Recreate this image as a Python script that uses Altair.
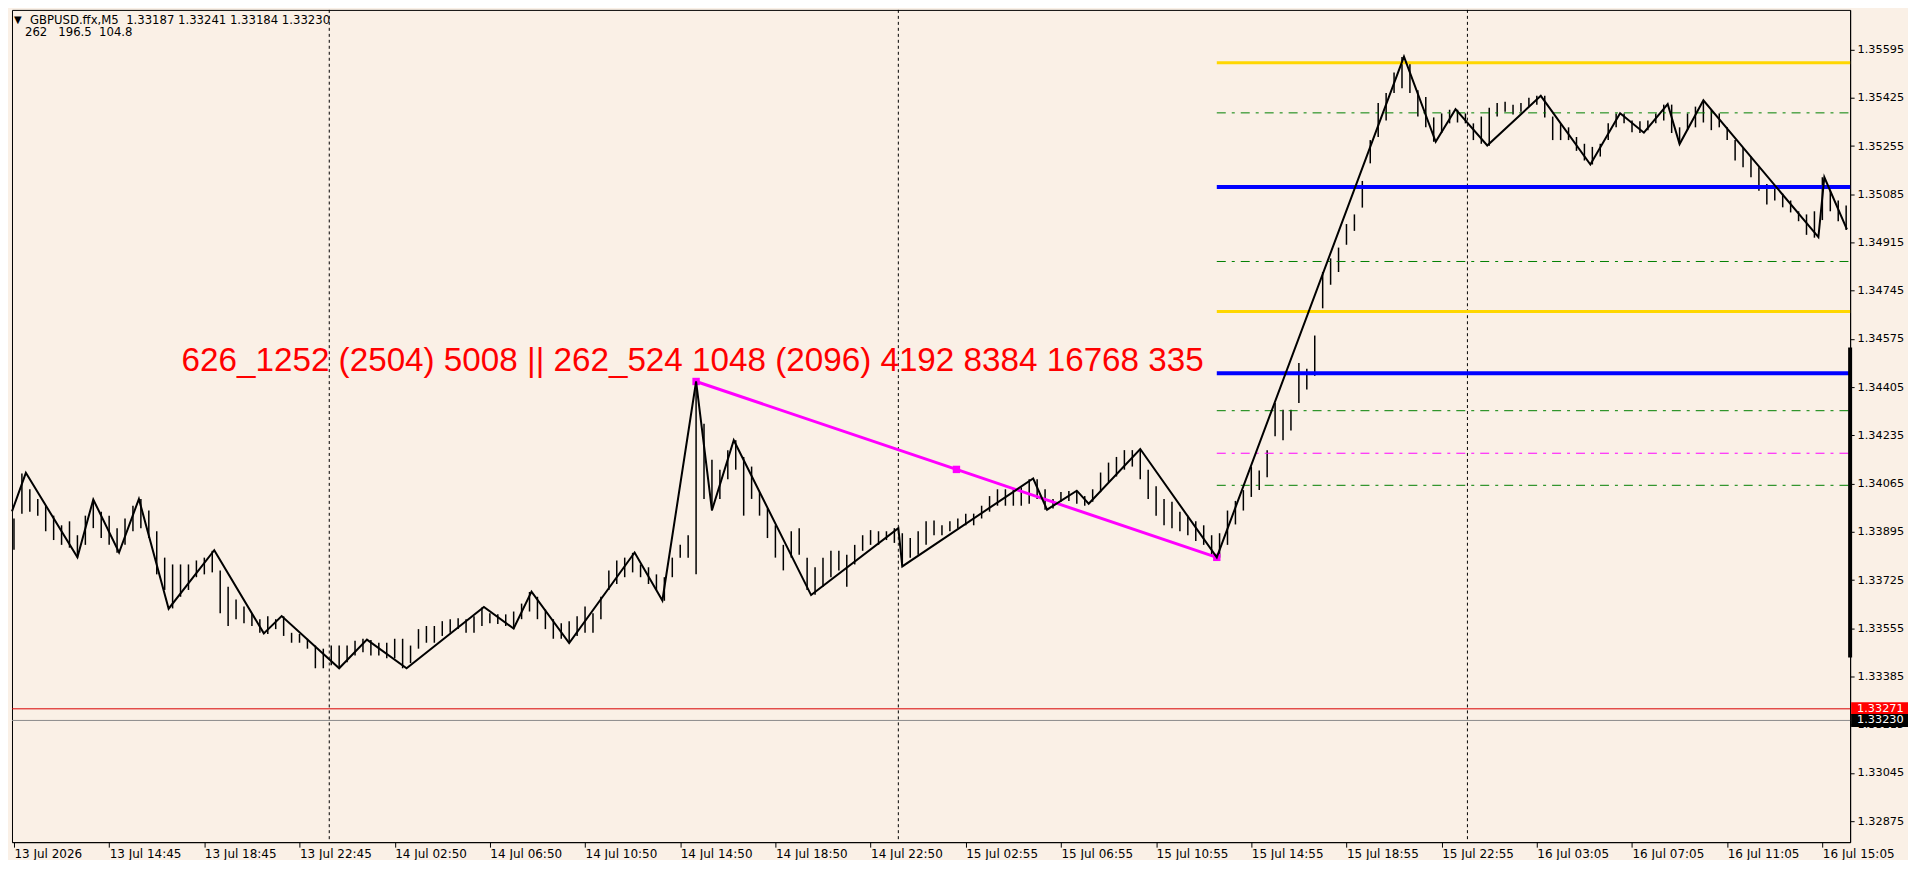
import altair as alt
import pandas as pd

W, H = 1842, 834
X_DOM = [-1, 926]
Y_DOM = [1.32801, 1.35735]

# ---- axis ticks / labels ----
time_ticks = [0, 48, 96, 144, 192, 240, 288, 336, 384, 432, 480, 528, 576, 624, 672, 720, 768, 816, 864, 912]
time_labels = ["13 Jul 2026", "13 Jul 14:45", "13 Jul 18:45", "13 Jul 22:45", "14 Jul 02:50",
               "14 Jul 06:50", "14 Jul 10:50", "14 Jul 14:50", "14 Jul 18:50", "14 Jul 22:50",
               "15 Jul 02:55", "15 Jul 06:55", "15 Jul 10:55", "15 Jul 14:55", "15 Jul 18:55",
               "15 Jul 22:55", "16 Jul 03:05", "16 Jul 07:05", "16 Jul 11:05", "16 Jul 15:05"]
price_ticks = [1.35595, 1.35425, 1.35255, 1.35085, 1.34915, 1.34745, 1.34575, 1.34405, 1.34235,
               1.34065, 1.33895, 1.33725, 1.33555, 1.33385, 1.33215, 1.33045, 1.32875]

# ---- price bars (one bar drawn per 4 M5 bars) ----
bar_idx = list(range(0, 928, 4))
bar_high = [
    1.33942, 1.34101, 1.34045, 1.34011, 1.33987, 1.33952, 1.33918, 1.33932,
    1.33883, 1.33952, 1.34008, 1.33966, 1.33952, 1.33908, 1.33942, 1.33987,
    1.34011, 1.33970, 1.33897, 1.33804, 1.33780, 1.33780, 1.33780, 1.33794,
    1.33804, 1.33828, 1.33759, 1.33701, 1.33656, 1.33632, 1.33608, 1.33587,
    1.33597, 1.33587, 1.33597, 1.33539, 1.33535, 1.33518, 1.33494, 1.33483,
    1.33494, 1.33494, 1.33494, 1.33511, 1.33518, 1.33514, 1.33504, 1.33504,
    1.33518, 1.33518, 1.33494, 1.33552, 1.33563, 1.33563, 1.33580, 1.33587,
    1.33590, 1.33587, 1.33597, 1.33628, 1.33608, 1.33604, 1.33604, 1.33614,
    1.33642, 1.33683, 1.33666, 1.33621, 1.33587, 1.33573, 1.33580, 1.33597,
    1.33632, 1.33608, 1.33666, 1.33759, 1.33794, 1.33804, 1.33821, 1.33780,
    1.33770, 1.33745, 1.33735, 1.33804, 1.33849, 1.33883, 1.34425, 1.34276,
    1.34149, 1.34114, 1.34183, 1.34218, 1.34159, 1.34125, 1.34035, 1.33977,
    1.33918, 1.33849, 1.33897, 1.33908, 1.33804, 1.33770, 1.33804, 1.33828,
    1.33828, 1.33814, 1.33849, 1.33883, 1.33901, 1.33897, 1.33897, 1.33908,
    1.33890, 1.33873, 1.33897, 1.33932, 1.33935, 1.33918, 1.33932, 1.33942,
    1.33959, 1.33959, 1.33987, 1.34021, 1.34045, 1.34045, 1.34045, 1.34052,
    1.34080, 1.34080, 1.34045, 1.34011, 1.34035, 1.34039, 1.34039, 1.34021,
    1.34045, 1.34104, 1.34139, 1.34159, 1.34183, 1.34183, 1.34187, 1.34114,
    1.34056, 1.34011, 1.34001, 1.33966, 1.33952, 1.33932, 1.33918, 1.33883,
    1.33890, 1.33970, 1.34004, 1.34042, 1.34125, 1.34111, 1.34183, 1.34349,
    1.34325, 1.34325, 1.34490, 1.34470, 1.34587, 1.34811, 1.34859, 1.34897,
    1.34980, 1.35014, 1.35132, 1.35276, 1.35407, 1.35442, 1.35514, 1.35569,
    1.35549, 1.35452, 1.35428, 1.35356, 1.35370, 1.35383, 1.35383, 1.35370,
    1.35335, 1.35359, 1.35390, 1.35407, 1.35411, 1.35401, 1.35407, 1.35425,
    1.35432, 1.35432, 1.35359, 1.35335, 1.35321, 1.35287, 1.35263, 1.35252,
    1.35263, 1.35335, 1.35370, 1.35370, 1.35345, 1.35342, 1.35345, 1.35370,
    1.35401, 1.35401, 1.35321, 1.35370, 1.35394, 1.35414, 1.35383, 1.35370,
    1.35321, 1.35276, 1.35252, 1.35218, 1.35180, 1.35121, 1.35107, 1.35087,
    1.35063, 1.35025, 1.35014, 1.35025, 1.35145, 1.35097, 1.35063, 1.35045,
]
bar_low = [
    1.33832, 1.33959, 1.33966, 1.33952, 1.33897, 1.33866, 1.33849, 1.33839,
    1.33804, 1.33849, 1.33908, 1.33873, 1.33849, 1.33821, 1.33849, 1.33897,
    1.33908, 1.33873, 1.33745, 1.33690, 1.33625, 1.33666, 1.33690, 1.33735,
    1.33745, 1.33752, 1.33608, 1.33563, 1.33587, 1.33573, 1.33563, 1.33539,
    1.33535, 1.33552, 1.33528, 1.33504, 1.33504, 1.33483, 1.33414, 1.33414,
    1.33425, 1.33414, 1.33435, 1.33459, 1.33470, 1.33459, 1.33459, 1.33449,
    1.33449, 1.33414, 1.33432, 1.33483, 1.33504, 1.33504, 1.33528, 1.33539,
    1.33552, 1.33539, 1.33539, 1.33563, 1.33573, 1.33570, 1.33563, 1.33552,
    1.33587, 1.33614, 1.33587, 1.33552, 1.33518, 1.33518, 1.33504, 1.33528,
    1.33539, 1.33539, 1.33587, 1.33690, 1.33711, 1.33735, 1.33752, 1.33735,
    1.33711, 1.33690, 1.33652, 1.33735, 1.33804, 1.33804, 1.33745, 1.34011,
    1.33970, 1.34011, 1.34080, 1.34114, 1.33952, 1.34011, 1.33952, 1.33873,
    1.33804, 1.33759, 1.33804, 1.33814, 1.33690, 1.33673, 1.33701, 1.33735,
    1.33759, 1.33701, 1.33780, 1.33828, 1.33849, 1.33849, 1.33866, 1.33856,
    1.33773, 1.33804, 1.33814, 1.33849, 1.33883, 1.33883, 1.33897, 1.33908,
    1.33918, 1.33918, 1.33942, 1.33966, 1.33987, 1.33987, 1.33987, 1.33987,
    1.33994, 1.34011, 1.33973, 1.33977, 1.34001, 1.34004, 1.33994, 1.33987,
    1.34001, 1.34035, 1.34070, 1.34090, 1.34114, 1.34125, 1.34080, 1.34011,
    1.33952, 1.33918, 1.33908, 1.33897, 1.33883, 1.33863, 1.33849, 1.33814,
    1.33804, 1.33849, 1.33921, 1.33970, 1.34018, 1.34042, 1.34087, 1.34232,
    1.34218, 1.34252, 1.34349, 1.34397, 1.34445, 1.34683, 1.34766, 1.34811,
    1.34907, 1.34956, 1.35038, 1.35194, 1.35287, 1.35345, 1.35442, 1.35459,
    1.35442, 1.35359, 1.35321, 1.35270, 1.35301, 1.35335, 1.35338, 1.35335,
    1.35276, 1.35263, 1.35256, 1.35359, 1.35376, 1.35366, 1.35376, 1.35394,
    1.35401, 1.35356, 1.35276, 1.35276, 1.35276, 1.35238, 1.35204, 1.35190,
    1.35218, 1.35276, 1.35321, 1.35335, 1.35304, 1.35301, 1.35311, 1.35335,
    1.35345, 1.35301, 1.35263, 1.35311, 1.35321, 1.35338, 1.35311, 1.35321,
    1.35276, 1.35204, 1.35180, 1.35145, 1.35097, 1.35049, 1.35063, 1.35039,
    1.35021, 1.34990, 1.34942, 1.34932, 1.34994, 1.35025, 1.34990, 1.34959,
]

# ---- zigzag ----
zz_idx = [-1, 6, 32, 40, 53, 63, 78, 101, 126, 135, 164, 178, 198, 237, 252, 261, 280, 313, 327,
          344, 352, 363, 402, 446, 448, 514, 521, 536, 542, 568, 606.6, 701, 717, 727, 743, 770,
          795, 810, 822, 834, 840, 852, 910, 913, 924.4]
zz_price = [1.33967, 1.34103, 1.33805, 1.34009, 1.33822, 1.34011, 1.33624, 1.33830, 1.33537,
            1.33598, 1.33414, 1.33515, 1.33414, 1.33630, 1.33554, 1.33684, 1.33503, 1.33822,
            1.33653, 1.34425, 1.33971, 1.34218, 1.33672, 1.33908, 1.33773, 1.34083, 1.33973,
            1.34040, 1.33994, 1.34187, 1.33805, 1.35570, 1.35270, 1.35385, 1.35257, 1.35432,
            1.35190, 1.35371, 1.35302, 1.35403, 1.35262, 1.35416, 1.34934, 1.35145, 1.34961]

# ---- magenta trend line ----
trend_idx = [344, 475.3, 606.6]
trend_price = [1.34425, 1.34115, 1.33805]

# ---- horizontal levels (start at last zigzag low) ----
level_start = 606.6
gold_levels = [1.35549, 1.34672]
blue_levels = [1.35111, 1.34454]
green_levels = [1.35372, 1.34848, 1.34322, 1.34059]
magenta_levels = [1.34172]
ask_price = 1.33271
bid_price = 1.33230
range_bar = [1.34545, 1.33452]

day_separators = [159, 446, 733]

NB = "\u00a0"
header1 = "GBPUSD.ffx,M5" + NB * 2 + "1.33187 1.33241 1.33184 1.33230"
header2 = "262" + NB * 3 + "196.5" + NB * 2 + "104.8"
big_text = "626_1252 (2504) 5008 || 262_524 1048 (2096) 4192 8384 16768 335"
big_text_idx = 600
big_text_price = 1.34463

BG = "#faf0e6"
xs = alt.Scale(domain=X_DOM, nice=False, zero=False)
ys = alt.Scale(domain=Y_DOM, nice=False, zero=False)

label_expr = "[" + ",".join("'" + s + "'" for s in time_labels) + "][round(datum.value / 48)]"

AXX = alt.Axis(
    values=time_ticks, labelExpr=label_expr, title=None, grid=False,
    labelAlign="left", labelFont="DejaVu Sans", labelFontSize=12, labelColor="black",
    tickColor="black", domainColor="black", tickSize=5, labelPadding=1,
    labelFlush=False, labelOverlap=False, labelBound=False)
AXY = alt.Axis(
    orient="right", values=price_ticks, format=".5f", title=None, grid=False,
    labelFont="DejaVu Sans", labelFontSize=11.3, labelColor="black",
    tickColor="black", domainColor="black", tickSize=4, labelPadding=3,
    labelOverlap=False, labelFlush=False, labelBound=False)


def X(f):
    return alt.X(f, scale=xs, axis=AXX)


def Y(f):
    return alt.Y(f, scale=ys, axis=AXY)


bars_df = pd.DataFrame({"i": bar_idx, "hi": bar_high, "lo": bar_low})
bars = alt.Chart(bars_df).mark_rule(color="black", strokeWidth=1.5).encode(
    x=X("i:Q"), y=Y("hi:Q"), y2="lo:Q")

sep = alt.Chart(pd.DataFrame({"i": day_separators})).mark_rule(
    color="black", strokeWidth=1, strokeDash=[3, 3]).encode(x=X("i:Q"))


def level_layer(prices, color, width, dash=None):
    df = pd.DataFrame({"p": prices, "s": [level_start] * len(prices)})
    kw = dict(color=color, strokeWidth=width)
    if dash:
        kw["strokeDash"] = dash
    return alt.Chart(df).mark_rule(**kw).encode(
        x=X("s:Q"), x2=alt.value(W), y=Y("p:Q"))


green = level_layer(green_levels, "#008000", 1, [9, 6, 3, 6])
magenta_l = level_layer(magenta_levels, "#ff00ff", 1, [9, 6, 3, 6])
gold = level_layer(gold_levels, "#ffd700", 3)
blue = level_layer(blue_levels, "#0000ff", 4)

ask_line = alt.Chart(pd.DataFrame({"p": [ask_price]})).mark_rule(color="#d80000", strokeWidth=1).encode(
    y=Y("p:Q"))
bid_line = alt.Chart(pd.DataFrame({"p": [bid_price]})).mark_rule(color="#8c8c8c", strokeWidth=1).encode(
    y=Y("p:Q"))

trend_df = pd.DataFrame({"i": trend_idx, "p": trend_price})
trend = alt.Chart(trend_df).mark_line(color="#ff00ff", strokeWidth=3).encode(x=X("i:Q"), y=Y("p:Q"))
trend_pts = alt.Chart(trend_df).mark_square(color="#ff00ff", size=55, opacity=1).encode(
    x=X("i:Q"), y=Y("p:Q"))

zz_df = pd.DataFrame({"i": zz_idx, "p": zz_price, "o": list(range(len(zz_idx)))})
zigzag = alt.Chart(zz_df).mark_line(color="black", strokeWidth=2).encode(
    x=X("i:Q"), y=Y("p:Q"), order="o:Q")

big = alt.Chart(pd.DataFrame({"i": [big_text_idx], "p": [big_text_price], "t": [big_text]})).mark_text(
    align="right", baseline="alphabetic", font="Liberation Sans", fontSize=33.3, color="#ff0000").encode(
    x=X("i:Q"), y=Y("p:Q"), text="t:N")

rb = alt.Chart(pd.DataFrame({"a": [range_bar[0]], "b": [range_bar[1]]})).mark_rule(
    color="black", strokeWidth=4).encode(x=alt.value(W), y=Y("a:Q"), y2="b:Q")

HALF = 0.00023
box_df = pd.DataFrame({"p": [ask_price, bid_price],
                       "t": ["%.5f" % ask_price, "%.5f" % bid_price],
                       "c": ["#ff0000", "#000000"]})
box_df["top"] = box_df["p"] + HALF
box_df["bot"] = box_df["p"] - HALF
boxes = alt.Chart(box_df).mark_rect().encode(
    x=alt.value(W + 1), x2=alt.value(W + 58),
    y=Y("top:Q"), y2="bot:Q",
    color=alt.Color("c:N", scale=None, legend=None))
box_txt = alt.Chart(box_df).mark_text(
    align="left", baseline="middle", font="DejaVu Sans", fontSize=11.3, color="white").encode(
    x=alt.value(W + 7), y=Y("p:Q"), text="t:N")

hdr_arrow = alt.Chart(pd.DataFrame({"t": ["▼"]})).mark_text(
    align="left", baseline="middle", font="DejaVu Sans", fontSize=10, color="black").encode(
    x=alt.value(2), y=alt.value(10), text="t:N")
hdr1 = alt.Chart(pd.DataFrame({"t": [header1]})).mark_text(
    align="left", baseline="middle", font="DejaVu Sans", fontSize=11.7, color="black").encode(
    x=alt.value(18), y=alt.value(10), text="t:N")
hdr2 = alt.Chart(pd.DataFrame({"t": [header2]})).mark_text(
    align="left", baseline="middle", font="DejaVu Sans", fontSize=11.7, color="black").encode(
    x=alt.value(13), y=alt.value(22), text="t:N")

chart = alt.layer(
    bars, sep, ask_line, bid_line, green, magenta_l, gold, blue,
    trend, trend_pts, zigzag, big, rb, boxes, box_txt, hdr_arrow, hdr1, hdr2
).properties(
    width=W, height=H, background=BG,
    padding={"left": 0, "top": 0, "right": 0, "bottom": 0},
).configure_view(stroke="black", strokeWidth=1, fill=BG)

chart.save("out.html", embed_options={"renderer": "svg", "actions": False})
